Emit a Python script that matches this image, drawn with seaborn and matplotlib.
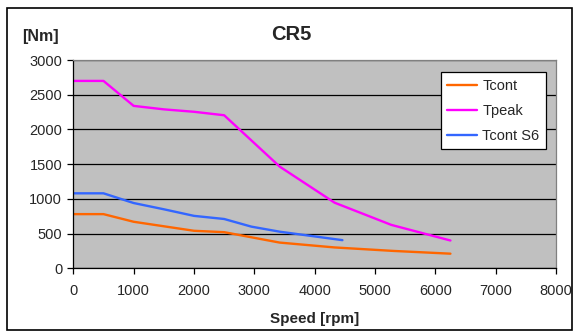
import pandas as pd
import matplotlib
matplotlib.use('Agg')
import matplotlib.pyplot as plt
import seaborn as sns
from matplotlib.patches import Rectangle

# Data
tcont_speed = [0, 500, 1000, 2000, 2500, 3420, 4330, 5300, 6250]
tcont_torque = [780, 780, 670, 540, 520, 370, 300, 250, 210]

tpeak_speed = [0, 500, 1000, 1500, 2000, 2500, 3420, 4330, 5270, 6250]
tpeak_torque = [2700, 2700, 2340, 2290, 2255, 2205, 1465, 945, 625, 400]

ts6_speed = [0, 500, 1000, 1500, 2000, 2500, 2950, 3420, 4460]
ts6_torque = [1080, 1080, 940, 850, 755, 710, 600, 527, 405]

series_names = ['Tcont', 'Tpeak', 'Tcont S6']
series_colors = ['#FF6600', '#FF00FF', '#3366FF']

df = pd.concat([
    pd.DataFrame({'Speed': tcont_speed, 'Torque': tcont_torque, 'Series': 'Tcont'}),
    pd.DataFrame({'Speed': tpeak_speed, 'Torque': tpeak_torque, 'Series': 'Tpeak'}),
    pd.DataFrame({'Speed': ts6_speed, 'Torque': ts6_torque, 'Series': 'Tcont S6'}),
], ignore_index=True)

sns.set_style('white')
plt.rcParams['font.family'] = ['Liberation Sans', 'DejaVu Sans']

fig = plt.figure(figsize=(5.75, 3.32), dpi=100)
ax = fig.add_axes([0.1275, 0.192, 0.967 - 0.1275, 0.627])

# Outer border of the chart
fig.patches.append(Rectangle((7 / 575, 2 / 332), 565 / 575, 322 / 332,
                             transform=fig.transFigure, fill=False,
                             edgecolor='black', linewidth=1.2))

ax.set_facecolor('#C0C0C0')
sns.lineplot(data=df, x='Speed', y='Torque', hue='Series', hue_order=series_names,
             palette=series_colors, sort=False, estimator=None, linewidth=1.7, ax=ax)

ax.set_xlim(0, 8000)
ax.set_ylim(0, 3000)
ax.set_xticks(range(0, 8001, 1000))
ax.set_yticks(range(0, 3001, 500))
ax.yaxis.grid(True, color='black', linewidth=0.9)
ax.set_axisbelow(True)
ax.tick_params(axis='both', direction='out', length=4, width=0.9, color='black',
               labelsize=10.5, left=True, bottom=True)
ax.tick_params(axis='x', pad=7.5)
ax.tick_params(axis='y', pad=4)

for side in ['top', 'right']:
    ax.spines[side].set_color('#808080')
    ax.spines[side].set_linewidth(0.9)
for side in ['left', 'bottom']:
    ax.spines[side].set_color('black')
    ax.spines[side].set_linewidth(0.9)

ax.set_xlabel('Speed [rpm]', fontsize=11, fontweight='bold', labelpad=10)
ax.set_ylabel('')
fig.text(22 / 575, 1 - 36 / 332, '[Nm]', fontsize=11.5, fontweight='bold',
         ha='left', va='center')
fig.text(291 / 575, 1 - 35 / 332, 'CR5', fontsize=14.5, fontweight='bold',
         ha='center', va='center')

leg = ax.legend(loc='upper right', bbox_to_anchor=(0.979, 0.941), borderaxespad=0,
                fontsize=10.5, frameon=True, fancybox=False, framealpha=1,
                edgecolor='black', handlelength=2.05, handletextpad=0.35,
                borderpad=0.45, labelspacing=0.75)
leg.get_frame().set_linewidth(0.9)
leg.get_frame().set_facecolor('white')

fig.savefig('out.png', dpi=100)
